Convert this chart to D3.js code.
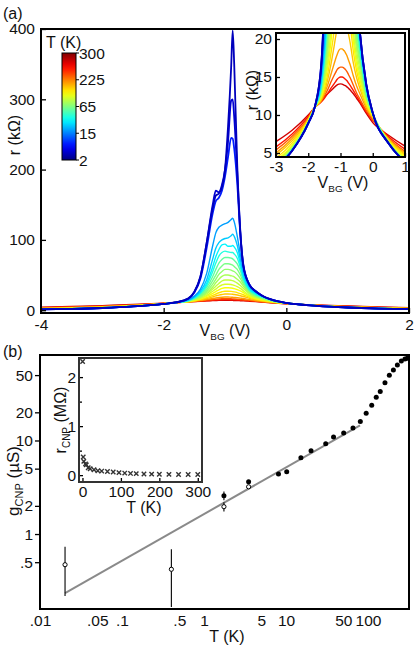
<!DOCTYPE html>
<html><head><meta charset="utf-8">
<script src="https://cdn.jsdelivr.net/npm/d3@7"></script>
<style>
body{margin:0;background:#fff}
svg{display:block}
text{font-family:"Liberation Sans",Arial,sans-serif;fill:#111}
</style>
</head><body>
<svg id="c" width="415" height="652"></svg>
<script>
// ---------- Panel (a) data ----------
const vGrid = [-4,-3.5,-3,-2.5,-2,-1.8,-1.6,-1.5,-1.4,-1.3,-1.2,-1.15,-1.1,-1.05,-1.0,-0.95,-0.9,-0.875,-0.85,-0.8,-0.75,-0.7,-0.6,-0.5,-0.4,-0.2,0,0.5,1,1.5,2];
const curveTemps = [2,3.5,8,20,30,40,50,65,80,95,110,125,140,160,180,200,225,250,275,300];
const curveR = [
 [1.1,1.85,3.1,5.3,8.9,11,16.5,26,48,95,145,163,166,175,200,262,345,398,350,205,112,64,36,27,21,14,10.3,6.2,3.8,2.3,1.4],
 [1.1,1.85,3.1,5.3,8.9,11,16.5,26,48,95,150,170,168,178,200,240,298,300,275,195,110,63,36,27,21,14,10.3,6.2,3.8,2.3,1.4],
 [1.1,1.85,3.1,5.3,8.9,11,16,25,45,88,138,155,160,170,190,218,245,244,230,180,108,62,36,27,21,14,10.3,6.2,3.8,2.3,1.4],
 [1.1,1.9,3.1,5.3,8.9,11,15,20,30,52,92,110,118,121,123,125,129,131,126,105,80,57,34,26,20.5,13.8,10.2,6.2,3.8,2.3,1.4],
 [1.2,1.9,3.2,5.4,8.9,11,14.5,19,27,43,73,88,96,100,102,103,106,108,105,92,72,52,32,25,20,13.6,10.2,6.2,3.8,2.35,1.45],
 [1.2,2.0,3.2,5.4,8.9,11,14,18,25,38,62,76,86,93,94,91,91,92,90,82,66,48,30,24,19.5,13.4,10.2,6.2,3.9,2.4,1.5],
 [1.2,2.0,3.2,5.4,8.9,11,13.8,17.5,24,35,55,67,77,82,84,83,82,82,80,74,61,45,29,23,19,13.2,10.2,6.2,3.9,2.4,1.5],
 [1.3,2.0,3.3,5.4,9.0,11,13.6,17,22.5,32,48,58,67,72,75,75,74,73,71,66,56,43,28,22,18.5,13.0,10.2,6.3,3.9,2.4,1.5],
 [1.3,2.1,3.3,5.5,9.0,11,13.4,16.5,21,29,42,50,58,63,66,66,65,64,62,58,50,40,27,21,18,12.8,10.2,6.3,3.9,2.5,1.6],
 [1.4,2.1,3.4,5.5,9.0,11,13.2,16,20,27,37,44,51,55,58,58,57,56,55,51,45,37,26,20,17.3,12.6,10.2,6.3,4.0,2.5,1.6],
 [1.5,2.2,3.5,5.6,9.0,11,13,15.5,19,25,33,39,44,48,50,50,49,48.5,47.5,44,40,34,24.5,19.5,16.8,12.4,10.1,6.3,4.1,2.6,1.7],
 [1.6,2.4,3.6,5.7,9.1,11,12.8,15,18,23,30,34,38,41.5,43,43,42.5,42,41,38.5,35,31,23,18.5,16,12.2,10.1,6.4,4.1,2.7,1.8],
 [1.7,2.5,3.8,5.9,9.1,11,12.6,14.5,17,21,27,30,33.5,35.8,37,37,36.5,36,35.3,33.5,31,27.5,21,17.5,15.3,12.0,10.0,6.4,4.2,2.8,1.9],
 [1.9,2.7,4.0,6.0,9.2,11,12.4,14,16.2,19.5,24,26.5,29,31,32,32,31.6,31.2,30.7,29.3,27.3,25,19.7,16.6,14.7,11.7,9.9,6.5,4.4,2.9,2.0],
 [2.2,3.0,4.3,6.3,9.3,11,12.2,13.5,15.3,18,21,23,24.8,26.2,27,27,26.7,26.4,26,25,23.6,22,18.3,15.8,14.1,11.4,9.8,6.6,4.6,3.2,2.2],
 [2.5,3.4,4.7,6.6,9.4,11,12,13.1,14.6,16.6,19,20.3,21.5,22.4,23,23,22.8,22.6,22.3,21.6,20.6,19.5,16.8,14.9,13.5,11.2,9.7,6.7,4.8,3.5,2.5],
 [2.8,3.7,5.0,6.9,9.5,11,11.9,12.8,13.9,15.3,16.7,17.4,18.0,18.5,18.7,18.7,18.5,18.4,18.2,17.8,17.2,16.6,15.1,13.8,12.8,10.9,9.6,6.8,5.0,3.7,2.7],
 [3.1,4.1,5.4,7.2,9.6,11,11.8,12.5,13.3,14.3,15.2,15.6,16.0,16.2,16.3,16.3,16.2,16.1,16.0,15.7,15.3,14.9,13.9,12.9,12.1,10.6,9.4,6.9,5.2,3.9,3.0],
 [3.5,4.5,5.8,7.5,9.8,11,11.7,12.2,12.8,13.5,14.1,14.4,14.7,14.9,15.0,15.0,14.9,14.8,14.7,14.5,14.2,13.9,13.2,12.5,11.8,10.4,9.3,7.1,5.5,4.2,3.2],
 [4.1,5.2,6.5,8.0,10.0,11.0,11.9,12.4,12.8,13.2,13.6,13.8,13.95,14.05,14.1,14.05,13.95,13.9,13.85,13.7,13.5,13.3,12.8,12.2,11.6,10.2,9.0,7.3,5.9,4.7,3.7]
];
const aMainXTicks = [-4,-2,0,2];
const aMainYTicks = [0,100,200,300,400];
const aInsetXTicks = [-3,-2,-1,0,1];
const aInsetYTicks = [5,10,15,20];
const cbTemps = [2,15,65,225,300];

// ---------- Panel (b) data ----------
const filledT = [1.75,3.5,8.1,10.2,15.2,20.2,30.5,38,50.5,65.6,80.6,95,111,126,141,161,182,204,228,255,282,301];
const filledG = [2.57,3.62,4.38,4.64,6.55,7.78,9.24,10.9,12.0,13.6,16.0,19.5,23.8,29.0,33.3,41.5,49.8,56.8,64.2,70.8,74.5,75.7];
const openT = [0.0202,0.40,1.75,3.5];
const openG = [0.47,0.42,1.96,3.2];
const errT = [0.0202,0.40,1.75,1.75];
const errLo = [0.217,0.166,1.74,2.3];
const errHi = [0.73,0.686,2.18,2.85];
const fitT = [0.0202,80];
const fitG = [0.234,14.5];
const bXTicks = [0.01,0.05,0.1,0.5,1,5,10,50,100];
const bXLabels = [".01",".05",".1",".5","1","5","10","50","100"];
const bYTicks = [0.5,1,2,5,10,20,50];
const bYLabels = [".5","1","2","5","10","20","50"];
const insetT = [0.4,2,3.5,8,10,15,20,30,40,50,65,80,95,110,125,140,160,180,200,225,250,275,300];
const insetR = [2.32,0.37,0.28,0.23,0.21,0.15,0.13,0.11,0.09,0.083,0.074,0.063,0.052,0.042,0.035,0.030,0.024,0.020,0.018,0.016,0.014,0.013,0.013];
const insetXTicks = [0,100,200,300];
const insetYTicks = [0,1,2];

// ---------- helpers ----------
const svg = d3.select("#c");
const FS = 15.5;
function jet(t){
  const c = v => Math.max(0, Math.min(1, v));
  return d3.rgb(255*c(1.5-Math.abs(4*t-3)), 255*c(1.5-Math.abs(4*t-2)), 255*c(1.5-Math.abs(4*t-1)));
}
const tempToT = d3.scaleLinear().domain(cbTemps).range([0.06,0.26,0.47,0.72,0.92]);
function styleAxis(g, fs){
  g.select(".domain").remove();
  g.selectAll("line").attr("stroke","#000").attr("stroke-width",1.3);
  g.selectAll("text").attr("font-size",fs).attr("fill","#111").attr("font-family","Liberation Sans, Arial, sans-serif");
}
const defs = svg.append("defs");

// ================= PANEL (a) =================
const xA = d3.scaleLinear().domain([-4,2]).range([41,409]);
const yA = d3.scaleLinear().domain([-4,400]).range([313,29]);
defs.append("clipPath").attr("id","clipA").append("rect").attr("x",41).attr("y",29).attr("width",368).attr("height",284);

const lineA = d3.line().x((d,i)=>xA(vGrid[i])).y(d=>yA(d)).curve(d3.curveMonotoneX);
const gA = svg.append("g").attr("clip-path","url(#clipA)");
for(let k=curveR.length-1;k>=0;k--){
  gA.append("path").attr("d",lineA(curveR[k])).attr("fill","none")
    .attr("stroke",jet(tempToT(curveTemps[k]))).attr("stroke-width",k<3?1.8:1.4);
}
// axes (a)
svg.append("g").attr("transform","translate(41,0)")
  .call(d3.axisLeft(yA).tickValues(aMainYTicks).tickSize(-5).tickPadding(6).tickFormat(d3.format("d")))
  .call(g=>styleAxis(g,FS));
svg.append("g").attr("transform","translate(0,313)")
  .call(d3.axisBottom(xA).tickValues(aMainXTicks).tickSize(-5).tickPadding(6).tickFormat(d=>d<0?"-"+Math.abs(d):d))
  .call(g=>styleAxis(g,FS));
svg.append("rect").attr("x",41).attr("y",29).attr("width",368).attr("height",284)
  .attr("fill","none").attr("stroke","#000").attr("stroke-width",2);

// labels (a)
svg.append("text").attr("x",3).attr("y",19).attr("font-size",16).text("(a)");
svg.append("text").attr("transform","translate(20,135) rotate(-90)").attr("text-anchor","middle")
  .attr("font-size",16).text("r (kΩ)");
function vbg(sel, x, y, fs){
  const t = sel.append("text").attr("x",x).attr("y",y).attr("text-anchor","middle").attr("font-size",fs);
  t.append("tspan").text("V");
  t.append("tspan").attr("font-size",fs*0.62).attr("dy",4).text("BG");
  t.append("tspan").attr("dy",-4).text(" (V)");
}
vbg(svg, 225, 336, 16);

// colorbar
const grad = defs.append("linearGradient").attr("id","jetGrad").attr("x1",0).attr("y1",1).attr("x2",0).attr("y2",0);
d3.range(0,1.0001,0.05).forEach(t=>grad.append("stop").attr("offset",t).attr("stop-color",jet(t)));
const cbY = d3.scalePoint().domain(cbTemps).range([160,53]);
svg.append("rect").attr("x",62).attr("y",53).attr("width",14).attr("height",107)
  .attr("fill","url(#jetGrad)").attr("stroke","#000").attr("stroke-width",1);
cbTemps.forEach(T=>{
  svg.append("line").attr("x1",76).attr("x2",79).attr("y1",cbY(T)).attr("y2",cbY(T)).attr("stroke","#000");
  svg.append("text").attr("x",79).attr("y",cbY(T)).attr("dy","0.36em").attr("font-size",FS).text(T);
});
svg.append("text").attr("x",46).attr("y",48).attr("font-size",16).text("T (K)");

// inset (a)
const xIa = d3.scaleLinear().domain([-3,1]).range([276,405]);
const yIa = d3.scaleLinear().domain([4.47,20.79]).range([157,33]);
svg.append("rect").attr("x",276).attr("y",33).attr("width",129).attr("height",124).attr("fill","#fff");
defs.append("clipPath").attr("id","clipIa").append("rect").attr("x",276).attr("y",33).attr("width",129).attr("height",124);
const lineIa = d3.line().x((d,i)=>xIa(vGrid[i])).y(d=>yIa(d)).curve(d3.curveMonotoneX);
const gIa = svg.append("g").attr("clip-path","url(#clipIa)");
for(let k=curveR.length-1;k>=0;k--){
  gIa.append("path").attr("d",lineIa(curveR[k])).attr("fill","none")
    .attr("stroke",jet(tempToT(curveTemps[k]))).attr("stroke-width",k<3?1.8:1.4);
}
svg.append("g").attr("transform","translate(276,0)")
  .call(d3.axisLeft(yIa).tickValues(aInsetYTicks).tickSize(-4).tickPadding(4))
  .call(g=>styleAxis(g,FS));
svg.append("g").attr("transform","translate(0,157)")
  .call(d3.axisBottom(xIa).tickValues(aInsetXTicks).tickSize(-4).tickPadding(4).tickFormat(d=>d<0?"-"+Math.abs(d):d))
  .call(g=>styleAxis(g,FS));
svg.append("rect").attr("x",276).attr("y",33).attr("width",129).attr("height",124)
  .attr("fill","none").attr("stroke","#000").attr("stroke-width",2);
svg.append("text").attr("transform","translate(258,90) rotate(-90)").attr("text-anchor","middle")
  .attr("font-size",16).text("r (kΩ)");
vbg(svg, 343, 188, 16);

// ================= PANEL (b) =================
const xB = d3.scaleLog().domain([0.01,316.2]).range([40,409]);
const yB = d3.scaleLog().domain([0.158,82]).range([609,355]);
defs.append("clipPath").attr("id","clipB").append("rect").attr("x",40).attr("y",355).attr("width",369).attr("height",254);
const gB = svg.append("g").attr("clip-path","url(#clipB)");

// fit line
gB.append("path").attr("d",d3.line().x((d,i)=>xB(fitT[i])).y(d=>yB(d))(fitG))
  .attr("fill","none").attr("stroke","#8a8a8a").attr("stroke-width",2);
// error bars
errT.forEach((T,i)=>{
  gB.append("line").attr("x1",xB(T)).attr("x2",xB(T)).attr("y1",yB(errLo[i])).attr("y2",yB(errHi[i]))
    .attr("stroke","#000").attr("stroke-width",1.1);
});
// filled points
filledT.forEach((T,i)=>{
  gB.append("circle").attr("cx",xB(T)).attr("cy",yB(filledG[i])).attr("r",2.5).attr("fill","#000");
});
// open points
openT.forEach((T,i)=>{
  gB.append("circle").attr("cx",xB(T)).attr("cy",yB(openG[i])).attr("r",2.1)
    .attr("fill","#fff").attr("stroke","#000").attr("stroke-width",1);
});

// axes (b)
svg.append("g").attr("transform","translate(40,0)")
  .call(d3.axisLeft(yB).tickValues(bYTicks).tickSize(5).tickPadding(2).tickFormat((d,i)=>bYLabels[i]))
  .call(g=>styleAxis(g,FS));
svg.append("g").attr("transform","translate(0,609)")
  .call(d3.axisBottom(xB).tickValues(bXTicks).tickSize(0).tickPadding(6).tickFormat((d,i)=>bXLabels[i]))
  .call(g=>styleAxis(g,FS));
svg.append("rect").attr("x",40).attr("y",355).attr("width",369).attr("height",254)
  .attr("fill","none").attr("stroke","#000").attr("stroke-width",2);

svg.append("text").attr("x",3).attr("y",357).attr("font-size",16).text("(b)");
{
  const t = svg.append("text").attr("transform","translate(19,481) rotate(-90)").attr("text-anchor","middle").attr("font-size",17);
  t.append("tspan").text("g");
  t.append("tspan").attr("font-size",11).attr("dy",4).text("CNP");
  t.append("tspan").attr("dy",-4).text(" (µS)");
}
svg.append("text").attr("x",227).attr("y",642).attr("text-anchor","middle").attr("font-size",16).text("T (K)");

// inset (b)
const xIb = d3.scaleLinear().domain([-9,311]).range([79,202]);
const yIb = d3.scaleLinear().domain([-0.14,2.39]).range([482,358]);
svg.append("rect").attr("x",79).attr("y",358).attr("width",123).attr("height",124).attr("fill","#fff");
insetT.forEach((T,i)=>{
  svg.append("path").attr("transform",`translate(${xIb(T)},${yIb(insetR[i])})`)
    .attr("d","M-2.2,-2.2L2.2,2.2M-2.2,2.2L2.2,-2.2").attr("stroke","#333").attr("stroke-width",1.4).attr("fill","none");
});
svg.append("g").attr("transform","translate(79,0)")
  .call(d3.axisLeft(yIb).tickValues(insetYTicks).tickSize(-4).tickPadding(3).tickFormat(d3.format("d")))
  .call(g=>styleAxis(g,FS));
svg.append("g").attr("transform","translate(79,0)")
  .call(d3.axisLeft(yIb).tickValues([0.5,1.5]).tickSize(-3).tickFormat(""))
  .call(g=>styleAxis(g,FS));
svg.append("g").attr("transform","translate(0,482)")
  .call(d3.axisBottom(xIb).tickValues(insetXTicks).tickSize(-4).tickPadding(4).tickFormat(d3.format("d")))
  .call(g=>styleAxis(g,FS));
svg.append("rect").attr("x",79).attr("y",358).attr("width",123).attr("height",124)
  .attr("fill","none").attr("stroke","#333").attr("stroke-width",2);
{
  const t = svg.append("text").attr("transform","translate(66,420) rotate(-90)").attr("text-anchor","middle").attr("font-size",16);
  t.append("tspan").text("r");
  t.append("tspan").attr("font-size",10).attr("dy",4).text("CNP");
  t.append("tspan").attr("dy",-4).text(" (MΩ)");
}
svg.append("text").attr("x",144).attr("y",513).attr("text-anchor","middle").attr("font-size",16).text("T (K)");
</script>
</body></html>
